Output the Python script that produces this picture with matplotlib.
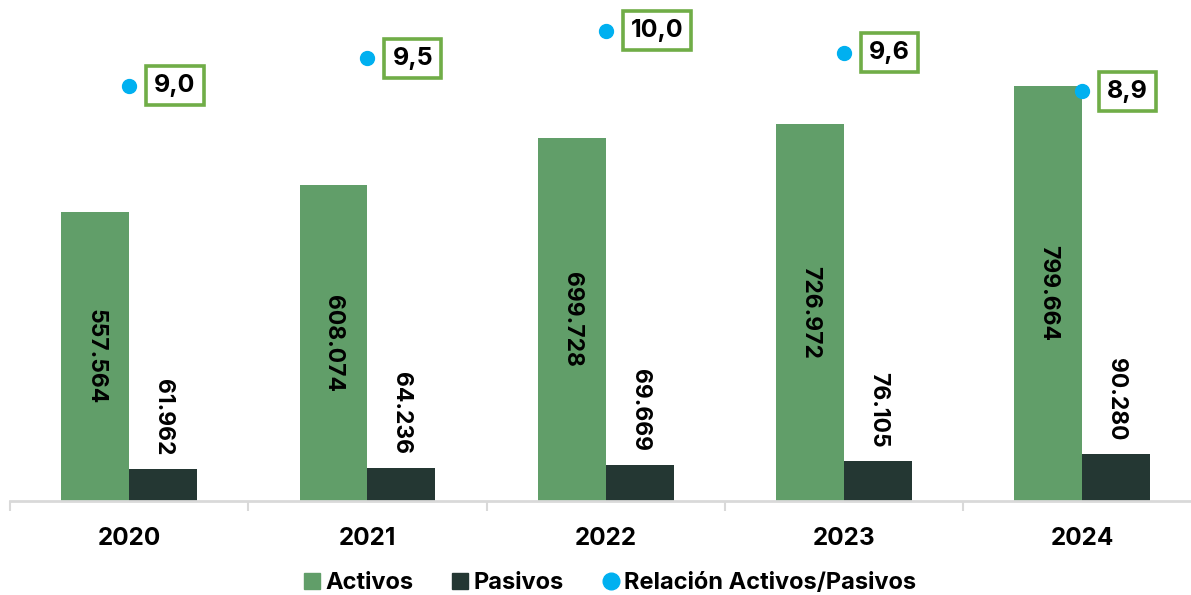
import matplotlib.pyplot as plt
import numpy as np
from matplotlib.lines import Line2D

years = ["2020", "2021", "2022", "2023", "2024"]
activos = [557564, 608074, 699728, 726972, 799664]
pasivos = [61962, 64236, 69669, 76105, 90280]
relacion = [9.0, 9.5, 10.0, 9.6, 8.9]

verde = "#619e69"
oscuro = "#243733"
cian = "#00b0f0"
borde = "#70ad47"

plt.rcParams['font.family'] = ['Inter', 'DejaVu Sans']

fig = plt.figure(figsize=(11.91, 5.95), dpi=100)
ax = fig.add_axes([10 / 1191, 94 / 595, 1191.5 / 1191, 501 / 595])

x = np.arange(len(years))
w = 0.285
ax.bar(x - w / 2, activos, w, color=verde, label="Activos")
ax.bar(x + w / 2, pasivos, w, color=oscuro, label="Pasivos")

def fmt(v):
    return f"{v:,}".replace(",", ".")

# etiquetas de valores, giradas
for xi, v in zip(x, activos):
    ax.text(xi - w / 2, v / 2, fmt(v), rotation=-90, ha="center", va="center",
            fontsize=16.5, fontweight="bold", color="black")
for xi, v in zip(x, pasivos):
    ax.annotate(fmt(v), (xi + w / 2, v), xytext=(0, 10), textcoords="offset points",
                rotation=-90, ha="center", va="bottom",
                fontsize=16.5, fontweight="bold", color="black")

ax.set_xlim(-0.5, 4.5)
ax.set_ylim(0, 965000)
ax.set_yticks([])
for s in ["top", "right", "left"]:
    ax.spines[s].set_visible(False)
ax.spines["bottom"].set_color("#d9d9d9")
ax.spines["bottom"].set_linewidth(2)
ax.set_xticks(np.arange(-0.5, 5, 1), minor=True)
ax.tick_params(axis="x", which="minor", length=7, width=1.5, color="#d9d9d9")
ax.set_xticks(x)
ax.set_xticklabels(years, fontsize=17.5, fontweight="bold")
ax.tick_params(axis="x", which="major", length=0, pad=19)

# relacion activos/pasivos en eje secundario
ax2 = ax.twinx()
ax2.set_ylim(1.45, 10.56)
ax2.set_yticks([])
for s in ax2.spines.values():
    s.set_visible(False)
ax2.plot(x, relacion, "o", color=cian, markersize=10, linestyle="none")
for xi, r in zip(x, relacion):
    ax2.annotate(f"{r:.1f}".replace(".", ","), (xi, r), xytext=(18, 0),
                 textcoords="offset points", ha="left", va="center",
                 fontsize=18, fontweight="bold", color="black",
                 bbox=dict(boxstyle="square,pad=0.32", fc="white", ec=borde, lw=2.6))

hs = [Line2D([], [], marker="s", color=verde, linestyle="none", markersize=12),
      Line2D([], [], marker="s", color=oscuro, linestyle="none", markersize=12),
      Line2D([], [], marker="o", color=cian, linestyle="none", markersize=12)]
fig.legend(hs, ["Activos", "Pasivos", "Relación Activos/Pasivos"], loc="center",
           bbox_to_anchor=(608 / 1191, 1 - 583 / 595), ncol=3, frameon=False,
           prop=dict(size=17, weight="bold"), handletextpad=0.05, columnspacing=1.5,
           handlelength=1.0)

fig.savefig("out.png", dpi=100)
